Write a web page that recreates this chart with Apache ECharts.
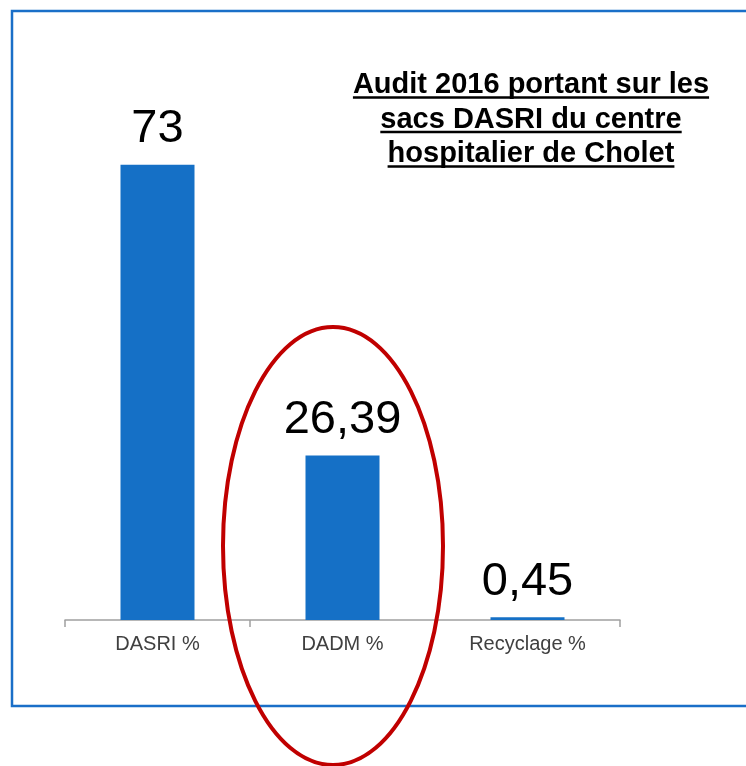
<!DOCTYPE html>
<html>
<head>
<meta charset="utf-8">
<script src="https://cdn.jsdelivr.net/npm/echarts@6/dist/echarts.min.js"></script>
<style>
html, body {margin: 0; padding: 0; background: #fff;}
#main {width: 746px; height: 766px;}
</style>
</head>
<body>
<div id="main"></div>
<script>
var categories = ["DASRI %", "DADM %", "Recyclage %"];
var values = [73, 26.39, 0.45];
var titleLines = ["Audit 2016 portant sur les", "sacs DASRI du centre", "hospitalier de Cholet"];

var FONT = 'Arial, "Liberation Sans", sans-serif';
var chart = echarts.init(document.getElementById("main"), null, {renderer: "canvas"});

// titre souligné : zrender ne sait pas souligner, on mesure et on trace les traits
var ctx = document.createElement("canvas").getContext("2d");
ctx.font = "bold 29px " + FONT;
var titleX = 531, titleY = 85, titleStep = 34.5;
var titleGraphics = [];
titleLines.forEach(function(line, i) {
    var y = titleY + i * titleStep, w = ctx.measureText(line).width;
    titleGraphics.push({type: "text", style: {
        text: line, x: titleX, y: y, font: "bold 29px " + FONT, fill: "#000",
        textAlign: "center", textVerticalAlign: "middle",
    }});
    titleGraphics.push({type: "line", shape: {x1: titleX - w/2, y1: y + 12.5, x2: titleX + w/2, y2: y + 12.5},
        style: {stroke: "#000", lineWidth: 2.5}});
});

chart.setOption({
    animation: false,
    grid: {left: 65, right: 126, top: 121, bottom: 146},
    xAxis: {type: "category", data: categories,
        axisLine: {show: true, lineStyle: {color: "#a0a0a0", width: 1.5}},
        axisTick: {show: true, alignWithLabel: false, interval: 0, length: 7, lineStyle: {color: "#a0a0a0", width: 1.5}},
        axisLabel: {color: "#404040", fontSize: 20, fontFamily: FONT, margin: 14},
    },
    yAxis: {type: "value", min: 0, max: 80, show: false, splitLine: {show: false}},
    series: [{type: "bar", data: values, barWidth: 74,
        itemStyle: {color: "#1570c6"},
        label: {show: true, position: "top", distance: 12, color: "#000", fontSize: 47, fontFamily: FONT,
            formatter: function(p) {return String(p.value).replace(".", ",")}},
    }],
    graphic: [
        {type: "rect", shape: {x: 12, y: 11, width: 760, height: 695}, silent: true,
            style: {fill: null, stroke: "#1a6fc8", lineWidth: 2.5}},
        {type: "group", children: titleGraphics},
        {type: "ellipse", shape: {cx: 333, cy: 546, rx: 110, ry: 219}, silent: true, z: 10,
            style: {fill: null, stroke: "#c00000", lineWidth: 4}},
    ],
});
</script>
</body>
</html>
